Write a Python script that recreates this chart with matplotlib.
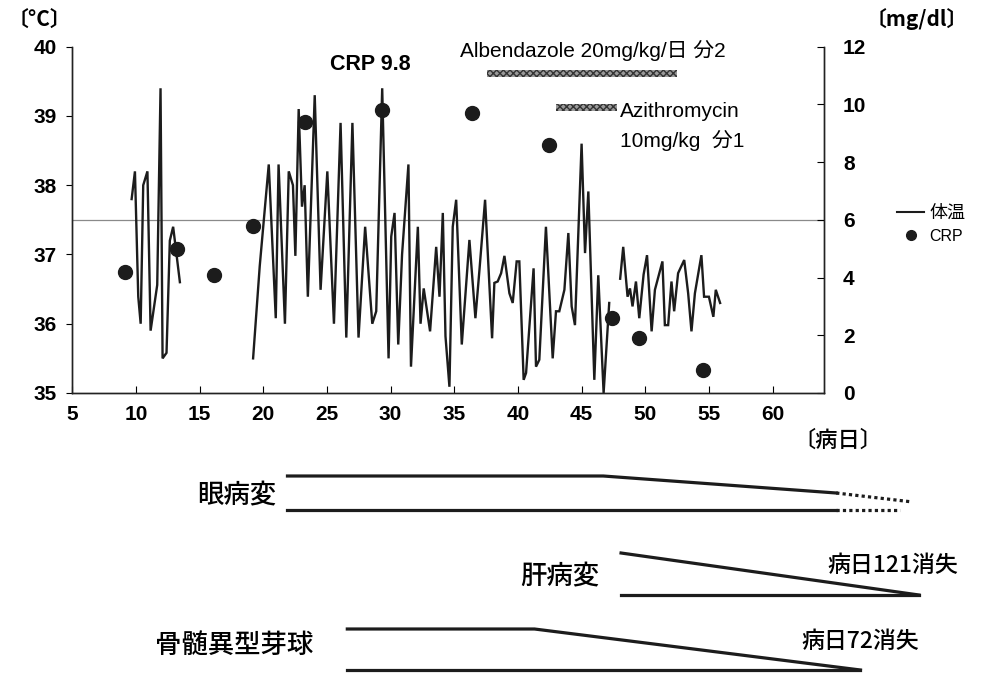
import matplotlib
matplotlib.use('Agg')
import matplotlib.pyplot as plt
from matplotlib.lines import Line2D
from matplotlib.transforms import blended_transform_factory

plt.rcParams['font.family'] = ['Liberation Sans', 'Noto Sans CJK JP', 'DejaVu Sans']
CJK = ['Noto Sans CJK JP', 'DejaVu Sans']

# body temperature, three recorded stretches (disease day, degC)
temp_day_a = [9.66, 9.92, 10.18, 10.37, 10.57, 10.9, 11.15, 11.67, 11.93, 12.09, 12.4, 12.66, 12.92, 13.45]
temp_val_a = [37.8, 38.2, 36.39, 36.0, 38.0, 38.2, 35.9, 36.56, 39.4, 35.5, 35.58, 37.2, 37.4, 36.6]

temp_day_b = [19.2, 19.72, 20.43, 20.98, 21.2, 21.7, 22.0, 22.33, 22.52, 22.78, 23.04, 23.25, 23.5,
              24.04, 24.5, 25.03, 25.55, 26.07, 26.52, 27.0, 27.48, 28.0, 28.56, 28.87, 29.34, 29.84,
              30.05, 30.31, 30.6, 30.9, 31.4, 31.6, 32.14, 32.35, 32.6, 33.1, 33.58, 33.84, 34.1,
              34.31, 34.62, 34.88, 35.15, 35.59, 36.19, 36.66, 36.98, 37.42, 37.97, 38.15, 38.41,
              38.68, 38.94, 39.33, 39.59, 39.9, 40.11, 40.45, 40.64, 41.23, 41.42, 41.68, 42.2,
              42.73, 42.99, 43.25, 43.65, 43.96, 44.22, 44.48, 45.0, 45.27, 45.53, 46.0, 46.31,
              46.73, 47.17]
temp_val_b = [35.5, 36.83, 38.3, 36.08, 38.3, 36.0, 38.2, 38.0, 36.98, 39.1, 37.69, 38.0, 36.39,
              39.3, 36.49, 38.2, 36.0, 38.9, 35.8, 38.9, 35.8, 37.4, 36.0, 36.18, 39.4, 35.5,
              37.26, 37.6, 35.7, 37.0, 38.3, 35.38, 37.4, 36.0, 36.51, 35.89, 37.11, 36.39, 37.6,
              35.82, 35.09, 37.4, 37.79, 35.7, 37.21, 36.08, 36.78, 37.79, 35.79, 36.59, 36.61,
              36.73, 36.98, 36.44, 36.3, 36.9, 36.9, 35.19, 35.29, 36.8, 35.38, 35.48, 37.4,
              35.5, 36.18, 36.18, 36.49, 37.31, 36.25, 35.98, 38.6, 37.02, 37.91, 35.19, 36.7,
              35.0, 36.3]

temp_day_c = [48.03, 48.27, 48.61, 48.8, 49.0, 49.27, 49.53, 49.87, 50.14, 50.5, 50.76, 51.35, 51.54,
              51.8, 52.06, 52.27, 52.58, 53.06, 53.37, 53.63, 53.9, 54.41, 54.62, 55.0, 55.35, 55.54,
              55.88]
temp_val_c = [36.65, 37.11, 36.39, 36.51, 36.25, 36.61, 36.08, 36.71, 36.99, 35.89, 36.49, 36.9, 35.98,
              35.98, 36.61, 36.18, 36.73, 36.92, 36.44, 35.89, 36.44, 36.99, 36.39, 36.39, 36.1, 36.49,
              36.3]

# CRP (mg/dl)
crp_day = [9.13, 13.19, 16.14, 19.2, 23.3, 29.34, 36.4, 42.47, 47.4, 49.53, 54.55]
crp_val = [4.2, 5.0, 4.1, 5.8, 9.4, 9.8, 9.7, 8.6, 2.6, 1.9, 0.8]

# treatment periods (start day, end day)
albendazole_days = [37.6, 52.5]
azithromycin_days = [43.0, 47.8]

# lesion course below the chart: days and relative size
eye_days = [21.9, 46.7, 65.0]
eye_size = [1.0, 1.0, 0.5]
eye_fade_days = [65.0, 70.9]
eye_fade_size = [0.5, 0.24]
eye_fade_base_end = 70.0
liver_days = [48.1, 71.5]
liver_size = [1.0, 0.0]
marrow_days = [26.6, 41.3, 66.9]
marrow_size = [1.0, 1.0, 0.0]

W, H = 986, 674


def fy(py):
    # pixel row -> figure fraction
    return 1 - py / H


def main():
    fig = plt.figure(figsize=(W / 100, H / 100), dpi=100)
    ax = fig.add_axes([72.3 / W, fy(393), (823.5 - 72.3) / W, (393 - 46.7) / H])
    ax2 = ax.twinx()

    line_color = '#1c1c1c'
    for d, v in [(temp_day_a, temp_val_a), (temp_day_b, temp_val_b), (temp_day_c, temp_val_c)]:
        ax.plot(d, v, color=line_color, lw=1.7, solid_joinstyle='miter', zorder=3)
    ax.axhline(37.5, color='#8a8a8a', lw=0.9, zorder=1)

    ax2.plot(crp_day, crp_val, 'o', color=line_color, ms=10, zorder=4)

    # drug bars
    for (s, e), y in [(albendazole_days, 39.61), (azithromycin_days, 39.12)]:
        ax.broken_barh([(s, e - s)], (y - 0.05, 0.1), facecolor='#9a9a9a', edgecolor='#333333',
                       hatch='xxxxx', linewidth=0)

    ax.text(28.4, 39.74, 'CRP 9.8', fontsize=15.5, fontweight='bold', ha='center', va='center')
    ax.text(35.45, 39.95, 'Albendazole 20mg/kg/日 分2', fontsize=15, ha='left', va='center')
    ax.text(48.0, 39.06, 'Azithromycin', fontsize=15, ha='left', va='center')
    ax.text(48.0, 38.65, '10mg/kg  分1', fontsize=15, ha='left', va='center')

    ax.set_xlim(5, 64)
    ax.set_ylim(35, 40)
    ax2.set_ylim(0, 12)
    ax.set_xticks(range(5, 61, 5))
    ax.set_yticks(range(35, 41))
    ax2.set_yticks(range(0, 13, 2))

    for a in (ax, ax2):
        a.spines['top'].set_visible(False)
        for s in a.spines.values():
            s.set_linewidth(1.0)
            s.set_color('#222222')
    ax.tick_params(axis='y', direction='out', length=4, pad=7, labelsize=15)
    ax.tick_params(axis='x', direction='in', length=5, pad=9, labelsize=15)
    ax2.tick_params(axis='y', direction='in', length=5, pad=14, labelsize=15)
    for lab in ax.get_xticklabels() + ax.get_yticklabels() + ax2.get_yticklabels():
        lab.set_fontweight('bold')

    fig.text(8 / W, fy(19), '〔°C〕', fontsize=15, fontweight='bold', va='center', ha='left', family=CJK)
    fig.text(968 / W, fy(19), '〔mg/dl〕', fontsize=15, fontweight='bold', va='center', ha='right',
             family=CJK)

    handles = [Line2D([], [], color=line_color, lw=1.5),
               Line2D([], [], marker='o', ls='', color=line_color, ms=7)]
    leg = ax.legend(handles, ['体温', 'CRP'], loc='center left', bbox_to_anchor=(890 / W, fy(224)),
                    bbox_transform=fig.transFigure, frameon=False, fontsize=13, handlelength=1.5,
                    handletextpad=0.3, labelspacing=0.35, borderaxespad=0)
    leg.get_texts()[0].set_family(CJK)
    leg.get_texts()[1].set_fontsize(11.5)

    # lesion course, x in days, y in figure rows
    tr = blended_transform_factory(ax.transData, fig.transFigure)
    lw = 2.3

    def wedge(days, size, base, height, **kw):
        ax.plot(days, [fy(base - s * height) for s in size], transform=tr, clip_on=False,
                color=line_color, lw=lw, **kw)

    wedge(eye_days, eye_size, 510, 34)
    wedge([eye_days[0], eye_days[-1]], [0, 0], 510, 34)
    wedge(eye_fade_days, eye_fade_size, 510, 34, ls=(0, (1, 1)))
    wedge([eye_fade_days[0], eye_fade_base_end], [0, 0], 510, 34, ls=(0, (1, 1)))
    wedge(liver_days, liver_size, 595, 42)
    wedge([liver_days[0], liver_days[-1]], [0, 0], 595, 42)
    wedge(marrow_days, marrow_size, 670, 41)
    wedge([marrow_days[0], marrow_days[-1]], [0, 0], 670, 41)

    kw = dict(transform=tr, va='center', family=CJK, fontweight='medium')
    ax.text(21.0, fy(496), '眼病変', fontsize=19, ha='right', **kw)
    ax.text(46.4, fy(577), '肝病変', fontsize=19, ha='right', **kw)
    ax.text(23.9, fy(645), '骨髄異型芽球', fontsize=19, ha='right', **kw)
    ax.text(64.3, fy(566), '病日121消失', fontsize=16.5, ha='left', **kw)
    ax.text(62.3, fy(641), '病日72消失', fontsize=16.5, ha='left', **kw)
    ax.text(61.6, fy(440), '〔病日〕', fontsize=16, ha='left', **kw)

    fig.savefig('out.png', dpi=100)


if __name__ == '__main__':
    main()
